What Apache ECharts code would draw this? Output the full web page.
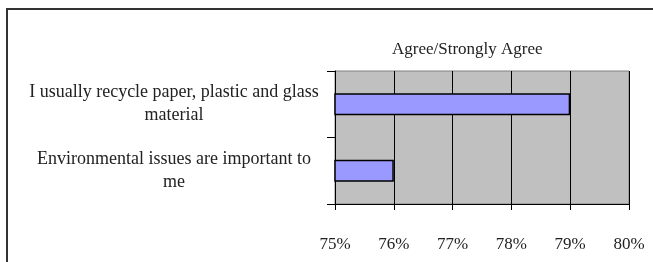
<!DOCTYPE html>
<html>
<head>
<meta charset="utf-8">
<script src="https://cdn.jsdelivr.net/npm/echarts@6/dist/echarts.min.js"></script>
<style>
  html, body { margin: 0; padding: 0; background: #fff; }
  #chart { width: 653px; height: 262px; }
</style>
</head>
<body>
<div id="chart"></div>
<script>
// categories, bottom first (category axis runs upward)
var categories = ['Environmental issues are important to\nme', 'I usually recycle paper, plastic and glass\nmaterial'];
// agree/strongly agree share, percent
var agreeValues = [76, 79];
var titleText = 'Agree/Strongly Agree';
var xMin = 75, xMax = 80, xStep = 1;

var font = 'Liberation Serif, Times New Roman, serif';
var chart = echarts.init(document.getElementById('chart'));

var option = {
  animation: false,
  title: {
    text: titleText,
    left: 387,
    top: 36,
    textStyle: { fontFamily: font, fontSize: 17, fontWeight: 'normal', color: '#222' }
  },
  grid: {
    left: 335, right: 24, top: 71, bottom: 58,
    show: true,
    backgroundColor: '#c0c0c0',
    borderColor: '#808080',
    borderWidth: 1
  },
  xAxis: {
    type: 'value',
    min: xMin, max: xMax, interval: xStep,
    axisLine: { show: true, lineStyle: { color: '#000', width: 1 } },
    axisTick: { show: true, length: 6, lineStyle: { color: '#000' } },
    splitLine: { show: true, lineStyle: { color: '#000', width: 1 } },
    axisLabel: {
      formatter: '{value}%',
      margin: 32,
      fontFamily: font, fontSize: 17, color: '#222'
    }
  },
  yAxis: {
    type: 'category',
    data: categories,
    axisLine: { show: true, lineStyle: { color: '#000', width: 1 } },
    axisTick: { show: true, length: 8, lineStyle: { color: '#000' } },
    axisLabel: {
      align: 'center',
      margin: 161,
      lineHeight: 23,
      fontFamily: font, fontSize: 18, color: '#222'
    }
  },
  series: [{
    type: 'bar',
    data: agreeValues,
    barWidth: '33%',
    itemStyle: { color: '#9999ff', borderColor: '#000', borderWidth: 1.5 }
  }],
  graphic: [{
    type: 'rect',
    shape: { x: 7, y: 9, width: 660, height: 270 },
    style: { fill: null, stroke: '#333', lineWidth: 2 },
    silent: true
  }]
};

chart.setOption(option);
</script>
</body>
</html>
